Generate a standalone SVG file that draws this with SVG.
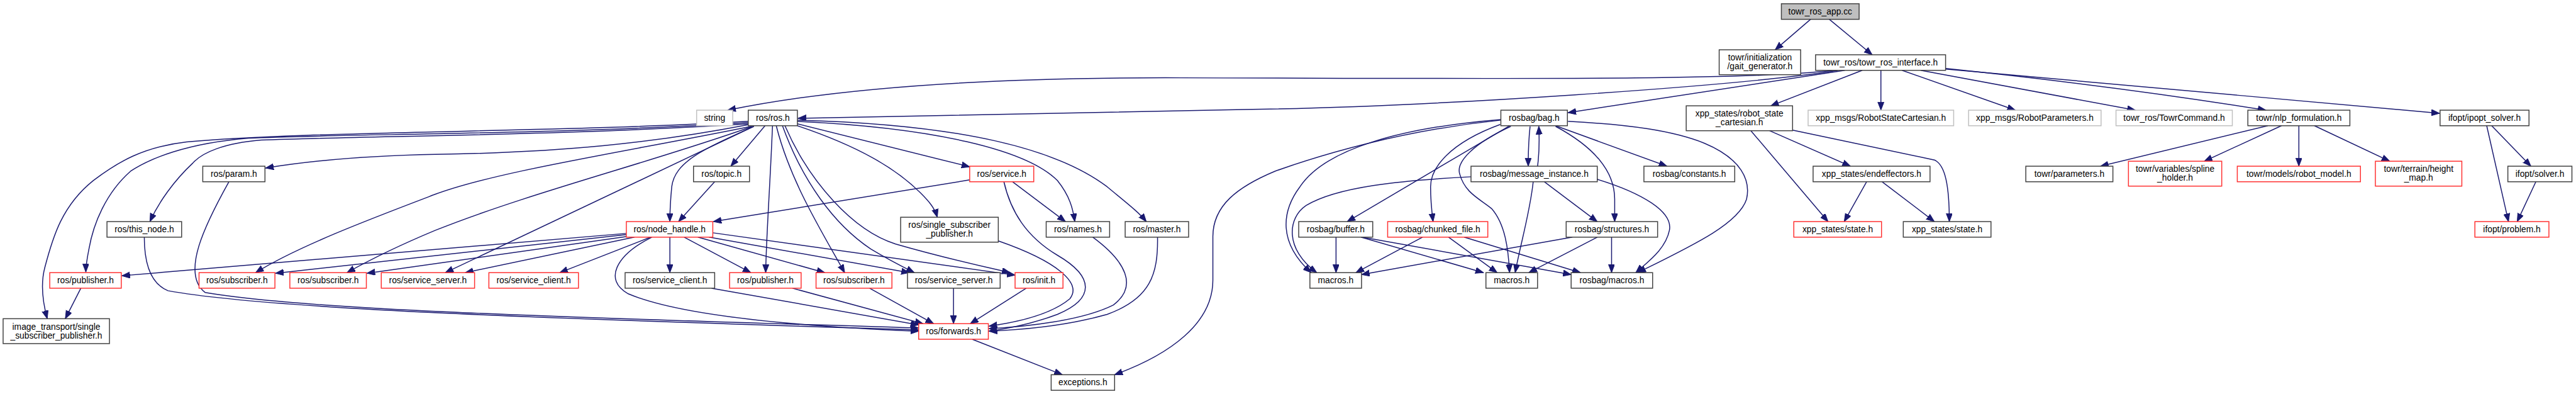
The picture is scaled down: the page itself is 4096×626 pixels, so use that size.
<svg xmlns="http://www.w3.org/2000/svg" width="4096" height="626" viewBox="0 0 4096 626">
<style>
.n rect{fill:#fff;stroke:#404040;stroke-width:1.5}
.r rect{stroke:#ff3030}
.g rect{stroke:#bfbfbf}
.root rect{fill:#bfbfbf}
text{font-family:"Liberation Sans",Arial,sans-serif;font-size:14px;text-anchor:middle;fill:#000}
.e path{fill:none;stroke:#191970;stroke-width:1.5;marker-end:url(#a)}
</style>
<defs>
<marker id="a" markerUnits="userSpaceOnUse" markerWidth="14" markerHeight="11" refX="13" refY="5" orient="auto"><path d="M0,0 L13,5 L0,10 z" fill="#191970" stroke="#191970" stroke-width="1"/></marker>
</defs>
<rect width="4096" height="626" fill="#fff"/>
<g transform="scale(0.989)">
<g id="edges" class="e">
<path d="M2911,31 L2854,80"/>
<path d="M2941,31 L3010,88"/>
<path d="M2948,113 C2800,130 2400,126 1900,125 C1600,124 1350,140 1170,177"/>
<path d="M2955,113 C2800,138 2300,172 2000,176 C1700,182 1400,186 1283,190"/>
<path d="M2966,113 L2521,181"/>
<path d="M2994,113 L2847,170"/>
<path d="M3024,113 L3024,177"/>
<path d="M3058,113 L3240,177"/>
<path d="M3088,113 L3433,177"/>
<path d="M3128,110 Q3400,138 3643,177"/>
<path d="M3128,111 L3922,182"/>
<path d="M1203,195 C900,213 500,210 300,228 C230,236 190,260 150,290 C100,330 85,380 72,430 C64,460 70,490 76,512"/>
<path d="M1203,197 C900,216 550,215 400,222 C300,230 240,255 210,275 C170,310 150,360 143,400 C140,415 138,425 138,437"/>
<path d="M1203,199 C900,218 600,218 420,225 C360,230 325,245 310,262 C280,290 255,325 241,356"/>
<path d="M1205,200 C1050,230 900,245 700,248 C600,250 500,258 427,270"/>
<path d="M1208,203 C1000,245 800,275 700,312 C600,350 480,395 411,438"/>
<path d="M1210,203 C1050,260 850,310 700,370 C640,395 590,420 558,438"/>
<path d="M1212,203 L716,438"/>
<path d="M1212,203 C1130,240 1085,260 1080,300 C1077,330 1077,345 1077,356"/>
<path d="M1230,202 L1175,267"/>
<path d="M1149,292 L1091,356"/>
<path d="M1242,202 C1238,300 1232,380 1231,438"/>
<path d="M1248,202 C1270,290 1320,370 1358,438"/>
<path d="M1258,202 C1290,290 1340,360 1400,400 C1430,418 1450,428 1470,438"/>
<path d="M1262,202 C1300,290 1370,370 1440,392 C1520,415 1580,428 1624,438"/>
<path d="M1282,202 C1380,235 1440,270 1480,310 C1495,325 1503,335 1507,349"/>
<path d="M1282,199 L1559,268"/>
<path d="M1282,195 C1500,205 1650,240 1700,290 C1720,315 1725,335 1728,356"/>
<path d="M1282,193 C1550,200 1700,240 1780,300 C1810,325 1830,340 1843,356"/>
<path d="M1559,289 L1147,356"/>
<path d="M1628,292 L1713,356"/>
<path d="M1614,292 C1625,340 1650,380 1700,410 C1760,445 1760,480 1700,505 C1660,520 1620,528 1590,532"/>
<path d="M1605,387 C1700,420 1740,455 1720,480 C1690,505 1640,517 1590,524"/>
<path d="M1757,381 C1810,420 1830,460 1790,490 C1740,515 1650,525 1590,528"/>
<path d="M1861,381 C1862,440 1850,480 1780,505 C1710,525 1640,530 1590,532"/>
<path d="M1007,375 L196,443"/>
<path d="M1007,377 L443,439"/>
<path d="M1008,380 L590,439"/>
<path d="M1020,381 L748,438"/>
<path d="M1046,381 L900,438"/>
<path d="M1077,381 L1077,438"/>
<path d="M1100,381 L1207,438"/>
<path d="M1122,381 L1326,438"/>
<path d="M1140,381 L1462,438"/>
<path d="M1146,374 L1632,442"/>
<path d="M1048,381 C990,410 970,450 1010,472 C1100,510 1300,525 1477,532"/>
<path d="M232,381 C232,420 240,455 270,467 C450,500 1000,515 1477,530"/>
<path d="M368,292 C330,360 290,440 330,470 C500,500 1000,512 1477,527"/>
<path d="M130,463 L105,512"/>
<path d="M1144,463 L1477,522"/>
<path d="M1274,463 L1484,520"/>
<path d="M1398,463 L1501,520"/>
<path d="M1533,463 L1533,520"/>
<path d="M1650,463 L1560,520"/>
<path d="M1563,545 L1708,602"/>
<path d="M2413,193 C2250,210 2120,250 2050,275 C1990,300 1950,330 1950,380 L1950,450 C1950,520 1880,570 1792,602"/>
<path d="M2413,192 C2250,205 2130,240 2090,300 C2060,340 2055,390 2108,438"/>
<path d="M2365,284 C2250,290 2150,300 2100,330 C2070,350 2065,400 2117,438"/>
<path d="M2427,202 L2166,356"/>
<path d="M2412,200 C2330,230 2300,270 2300,300 C2300,325 2302,340 2304,356"/>
<path d="M2429,203 C2370,230 2340,260 2347,280 C2355,310 2380,320 2398,335 C2420,360 2425,400 2427,438"/>
<path d="M2465,292 C2460,340 2445,390 2436,438"/>
<path d="M2483,292 L2568,356"/>
<path d="M2501,203 C2570,240 2596,280 2596,320 L2596,356"/>
<path d="M2501,202 L2680,267"/>
<path d="M2460,203 C2457,230 2457,250 2457,267"/>
<path d="M2472,267 C2475,245 2475,225 2474,203"/>
<path d="M2568,288 C2640,310 2690,340 2684,370 C2678,400 2650,420 2630,438"/>
<path d="M2521,195 C2620,200 2690,210 2740,230 C2800,255 2815,290 2808,320 C2795,360 2720,395 2633,438"/>
<path d="M2148,381 L2148,438"/>
<path d="M2188,381 L2385,438"/>
<path d="M2190,381 L2526,441"/>
<path d="M2287,381 L2180,438"/>
<path d="M2329,381 L2407,438"/>
<path d="M2354,381 L2541,438"/>
<path d="M2528,381 L2189,441"/>
<path d="M2568,381 L2458,438"/>
<path d="M2591,381 L2591,438"/>
<path d="M2815,210 L2939,356"/>
<path d="M2882,209 L3110,257 C3128,265 3134,300 3134,356"/>
<path d="M2845,210 L2975,267"/>
<path d="M3001,292 L2965,356"/>
<path d="M3026,292 L3110,356"/>
<path d="M3646,202 L3377,267"/>
<path d="M3668,202 L3544,259"/>
<path d="M3696,202 L3696,267"/>
<path d="M3721,202 L3842,259"/>
<path d="M4006,202 L4069,267"/>
<path d="M3998,202 L4033,356"/>
<path d="M4077,292 L4047,356"/>
</g>
<g id="n_app" class="n root"><rect x="2864" y="6" width="125" height="25"/><text x="2926.5" y="23">towr_ros_app.cc</text></g>
<g id="n_gait" class="n"><rect x="2764" y="80" width="131" height="40"/><text x="2829.5" y="97.5">towr/initialization</text><text x="2829.5" y="111.5">/gait_generator.h</text></g>
<g id="n_iface" class="n"><rect x="2919" y="88" width="209" height="25"/><text x="3023.5" y="105">towr_ros/towr_ros_interface.h</text></g>
<g id="n_rsc" class="n"><rect x="2711" y="170" width="171" height="40"/><text x="2796.5" y="187.5">xpp_states/robot_state</text><text x="2796.5" y="201.5">_cartesian.h</text></g>
<g id="n_rscmsg" class="n g"><rect x="2907" y="177" width="234" height="25"/><text x="3024" y="194">xpp_msgs/RobotStateCartesian.h</text></g>
<g id="n_rparam" class="n g"><rect x="3165" y="177" width="213" height="25"/><text x="3271.5" y="194">xpp_msgs/RobotParameters.h</text></g>
<g id="n_tcmd" class="n g"><rect x="3402" y="177" width="187" height="25"/><text x="3495.5" y="194">towr_ros/TowrCommand.h</text></g>
<g id="n_nlp" class="n"><rect x="3614" y="177" width="164" height="25"/><text x="3696" y="194">towr/nlp_formulation.h</text></g>
<g id="n_ipopt" class="n"><rect x="3923" y="177" width="143" height="25"/><text x="3994.5" y="194">ifopt/ipopt_solver.h</text></g>
<g id="n_spline" class="n r"><rect x="3422" y="259" width="150" height="40"/><text x="3497" y="276.5">towr/variables/spline</text><text x="3497" y="290.5">_holder.h</text></g>
<g id="n_robot" class="n r"><rect x="3597" y="267" width="198" height="25"/><text x="3696" y="284">towr/models/robot_model.h</text></g>
<g id="n_height" class="n r"><rect x="3819" y="259" width="139" height="40"/><text x="3888.5" y="276.5">towr/terrain/height</text><text x="3888.5" y="290.5">_map.h</text></g>
<g id="n_solver" class="n"><rect x="4032" y="267" width="103" height="25"/><text x="4083.5" y="284">ifopt/solver.h</text></g>
<g id="n_problem" class="n r"><rect x="3979" y="356" width="119" height="25"/><text x="4038.5" y="373">ifopt/problem.h</text></g>
<g id="n_params" class="n"><rect x="3257" y="267" width="140" height="25"/><text x="3327" y="284">towr/parameters.h</text></g>
<g id="n_endeff" class="n"><rect x="2915" y="267" width="188" height="25"/><text x="3009" y="284">xpp_states/endeffectors.h</text></g>
<g id="n_state1" class="n r"><rect x="2884" y="356" width="141" height="25"/><text x="2954.5" y="373">xpp_states/state.h</text></g>
<g id="n_state2" class="n"><rect x="3060" y="356" width="141" height="25"/><text x="3130.5" y="373">xpp_states/state.h</text></g>
<g id="n_bag" class="n"><rect x="2413" y="177" width="107" height="25"/><text x="2466.5" y="194">rosbag/bag.h</text></g>
<g id="n_msginst" class="n"><rect x="2365" y="267" width="203" height="25"/><text x="2466.5" y="284">rosbag/message_instance.h</text></g>
<g id="n_const" class="n"><rect x="2643" y="267" width="146" height="25"/><text x="2716" y="284">rosbag/constants.h</text></g>
<g id="n_buffer" class="n"><rect x="2088" y="356" width="119" height="25"/><text x="2147.5" y="373">rosbag/buffer.h</text></g>
<g id="n_chunk" class="n r"><rect x="2231" y="356" width="161" height="25"/><text x="2311.5" y="373">rosbag/chunked_file.h</text></g>
<g id="n_struct" class="n"><rect x="2518" y="356" width="147" height="25"/><text x="2591.5" y="373">rosbag/structures.h</text></g>
<g id="n_macros1" class="n"><rect x="2106" y="438" width="83" height="25"/><text x="2147.5" y="455">macros.h</text></g>
<g id="n_macros2" class="n"><rect x="2389" y="438" width="83" height="25"/><text x="2430.5" y="455">macros.h</text></g>
<g id="n_rbmacros" class="n"><rect x="2526" y="438" width="131" height="25"/><text x="2591.5" y="455">rosbag/macros.h</text></g>
<g id="n_string" class="n g"><rect x="1120" y="177" width="58" height="25"/><text x="1149" y="194">string</text></g>
<g id="n_ros" class="n"><rect x="1203" y="177" width="79" height="25"/><text x="1242.5" y="194">ros/ros.h</text></g>
<g id="n_topic" class="n"><rect x="1115" y="267" width="90" height="25"/><text x="1160" y="284">ros/topic.h</text></g>
<g id="n_nh" class="n r"><rect x="1007" y="356" width="139" height="25"/><text x="1076.5" y="373">ros/node_handle.h</text></g>
<g id="n_param" class="n"><rect x="326" y="267" width="100" height="25"/><text x="376" y="284">ros/param.h</text></g>
<g id="n_thisnode" class="n"><rect x="172" y="356" width="120" height="25"/><text x="232" y="373">ros/this_node.h</text></g>
<g id="n_pub1" class="n r"><rect x="80" y="438" width="115" height="25"/><text x="137.5" y="455">ros/publisher.h</text></g>
<g id="n_sub1" class="n r"><rect x="320" y="438" width="122" height="25"/><text x="381" y="455">ros/subscriber.h</text></g>
<g id="n_sub2" class="n r"><rect x="466" y="438" width="123" height="25"/><text x="527.5" y="455">ros/subscriber.h</text></g>
<g id="n_ss1" class="n r"><rect x="613" y="438" width="150" height="25"/><text x="688" y="455">ros/service_server.h</text></g>
<g id="n_sc1" class="n r"><rect x="786" y="438" width="144" height="25"/><text x="858" y="455">ros/service_client.h</text></g>
<g id="n_sc2" class="n"><rect x="1005" y="438" width="144" height="25"/><text x="1077" y="455">ros/service_client.h</text></g>
<g id="n_pub2" class="n r"><rect x="1173" y="438" width="115" height="25"/><text x="1230.5" y="455">ros/publisher.h</text></g>
<g id="n_sub3" class="n r"><rect x="1312" y="438" width="122" height="25"/><text x="1373" y="455">ros/subscriber.h</text></g>
<g id="n_ss2" class="n"><rect x="1459" y="438" width="149" height="25"/><text x="1533.5" y="455">ros/service_server.h</text></g>
<g id="n_init" class="n r"><rect x="1632" y="438" width="77" height="25"/><text x="1670.5" y="455">ros/init.h</text></g>
<g id="n_itssp" class="n"><rect x="5" y="512" width="171" height="40"/><text x="90.5" y="529.5">image_transport/single</text><text x="90.5" y="543.5">_subscriber_publisher.h</text></g>
<g id="n_ssp" class="n"><rect x="1448" y="349" width="157" height="40"/><text x="1526.5" y="366.5">ros/single_subscriber</text><text x="1526.5" y="380.5">_publisher.h</text></g>
<g id="n_service" class="n r"><rect x="1559" y="267" width="103" height="25"/><text x="1610.5" y="284">ros/service.h</text></g>
<g id="n_names" class="n"><rect x="1682" y="356" width="102" height="25"/><text x="1733" y="373">ros/names.h</text></g>
<g id="n_master" class="n"><rect x="1809" y="356" width="102" height="25"/><text x="1860" y="373">ros/master.h</text></g>
<g id="n_fwd" class="n r"><rect x="1477" y="520" width="112" height="25"/><text x="1533" y="537">ros/forwards.h</text></g>
<g id="n_exc" class="n"><rect x="1690" y="602" width="102" height="25"/><text x="1741" y="619">exceptions.h</text></g>
</g>
</svg>
